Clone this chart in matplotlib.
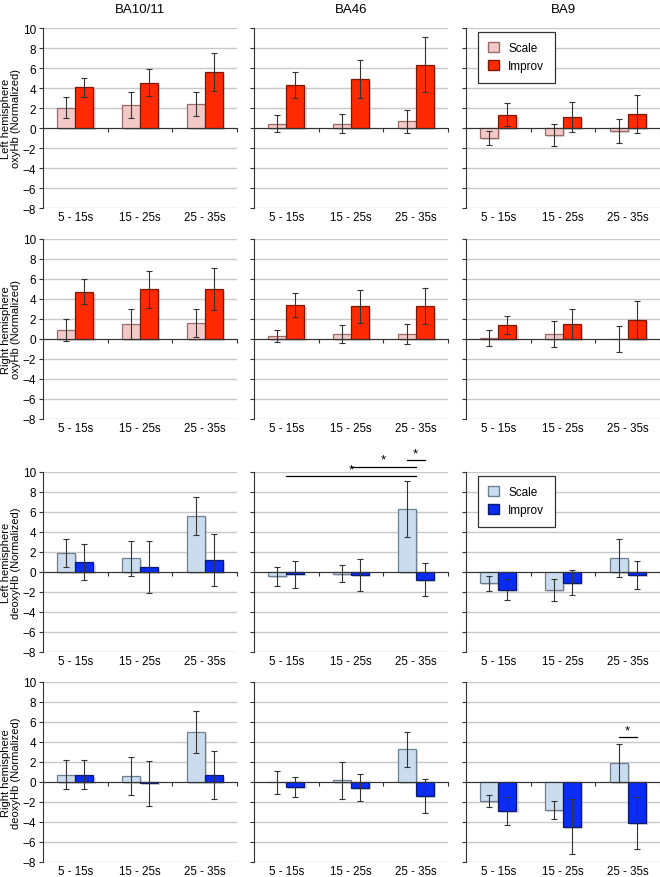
import numpy as np
import matplotlib
matplotlib.use('Agg')
import matplotlib.pyplot as plt
import matplotlib.patheffects as pe
import matplotlib.transforms as mtransforms
from matplotlib.patches import Patch

plt.rcParams['font.family'] = ['Liberation Sans', 'DejaVu Sans']

windows = ['5 - 15s', '15 - 25s', '25 - 35s']
regions = ['BA10/11', 'BA46', 'BA9']
row_labels = ['Left hemisphere\noxyHb (Normalized)', 'Right hemisphere\noxyHb (Normalized)',
              'Left hemisphere\ndeoxyHb (Normalized)', 'Right hemisphere\ndeoxyHb (Normalized)']

# [region][window]
lh_oxy_scale = [[2.04, 2.3, 2.43], [0.43, 0.43, 0.66], [-0.99, -0.72, -0.3]]
lh_oxy_scale_err = [[1.08, 1.3, 1.2], [0.87, 0.95, 1.13], [0.74, 1.1, 1.23]]
lh_oxy_improv = [[4.08, 4.54, 5.59], [4.28, 4.9, 6.35], [1.35, 1.15, 1.38]]
lh_oxy_improv_err = [[0.94, 1.35, 1.9], [1.3, 1.88, 2.78], [1.15, 1.5, 1.9]]

rh_oxy_scale = [[0.89, 1.51, 1.58], [0.3, 0.49, 0.49], [0.1, 0.49, 0.0]]
rh_oxy_scale_err = [[1.12, 1.48, 1.38], [0.58, 0.89, 1.0], [0.84, 1.3, 1.33]]
rh_oxy_improv = [[4.74, 4.97, 4.97], [3.39, 3.29, 3.29], [1.38, 1.48, 1.88]]
rh_oxy_improv_err = [[1.28, 1.84, 2.09], [1.2, 1.66, 1.8], [0.89, 1.51, 1.88]]

lh_deoxy_scale = [[1.94, 1.38, 5.59], [-0.43, -0.16, 6.35], [-1.12, -1.78, 1.38]]
lh_deoxy_scale_err = [[1.4, 1.74, 1.9], [0.95, 0.84, 2.8], [0.74, 1.07, 1.89]]
lh_deoxy_improv = [[0.99, 0.53, 1.22], [-0.2, -0.33, -0.76], [-1.78, -1.05, -0.33]]
lh_deoxy_improv_err = [[1.78, 2.6, 2.57], [1.35, 1.61, 1.63], [1.04, 1.28, 1.4]]

rh_deoxy_scale = [[0.73, 0.59, 4.98], [-0.03, 0.17, 3.27], [-1.88, -2.77, 1.88]]
rh_deoxy_scale_err = [[1.45, 1.88, 2.1], [1.12, 1.86, 1.78], [0.6, 0.89, 1.9]]
rh_deoxy_improv = [[0.73, -0.13, 0.73], [-0.53, -0.56, -1.39], [-2.9, -4.46, -4.09]]
rh_deoxy_improv_err = [[1.46, 2.26, 2.4], [1.0, 1.38, 1.73], [1.42, 2.75, 2.6]]

# significance: (row, col, from (window, bar), to (window, bar), height)
# bar: 0 = Scale, 1 = Improv, 0.5 = middle of the pair
sig_marks = [(2, 1, (0, 0.5), (2, 0.5), 9.57),
             (2, 1, (1, 0.5), (2, 0.5), 10.53),
             (2, 1, (2, 0), (2, 1), 11.2),
             (3, 2, (2, 0), (2, 1), 4.46)]

rows = [(lh_oxy_scale, lh_oxy_scale_err, lh_oxy_improv, lh_oxy_improv_err),
        (rh_oxy_scale, rh_oxy_scale_err, rh_oxy_improv, rh_oxy_improv_err),
        (lh_deoxy_scale, lh_deoxy_scale_err, lh_deoxy_improv, lh_deoxy_improv_err),
        (rh_deoxy_scale, rh_deoxy_scale_err, rh_deoxy_improv, rh_deoxy_improv_err)]

oxy_colors = (('#f3c9c7', '#9a6a68'), ('#ff2a00', '#7a1808'))
deoxy_colors = (('#cadcee', '#6e7f90'), ('#0a2cf5', '#0a1a70'))

W, H = 660, 878
fig = plt.figure(figsize=(W / 100, H / 100), dpi=100)

col_left = [43, 254, 466]
col_w = 194
row_top = [29, 240, 473, 683]
row_h = 180

bw = 0.28
shadow = [pe.SimplePatchShadow(offset=(1.5, -1.5), shadow_rgbFace='#999999', alpha=0.35), pe.Normal()]

for r in range(4):
    sc, sce, im, ime = rows[r]
    (sfc, sec), (ifc, iec) = oxy_colors if r < 2 else deoxy_colors
    for c in range(3):
        ax = fig.add_axes([col_left[c] / W, 1 - (row_top[r] + row_h) / H, col_w / W, row_h / H])
        x = np.arange(3)
        ax.set_xlim(-0.5, 2.5)
        ax.set_ylim(-8, 10)
        for yv in range(-8, 11, 2):
            ax.axhline(yv, color='#c8c8c8', lw=1.0, zorder=0)
        b1 = ax.bar(x - bw / 2, sc[c], bw, color=sfc, edgecolor=sec, lw=0.9, zorder=2)
        b2 = ax.bar(x + bw / 2, im[c], bw, color=ifc, edgecolor=iec, lw=0.9, zorder=2)
        for p in list(b1) + list(b2):
            p.set_path_effects(shadow)
        ax.errorbar(x - bw / 2, sc[c], yerr=sce[c], fmt='none', ecolor='#333333',
                    elinewidth=0.8, capsize=2.2, capthick=0.8, zorder=3)
        ax.errorbar(x + bw / 2, im[c], yerr=ime[c], fmt='none', ecolor='#333333',
                    elinewidth=0.8, capsize=2.2, capthick=0.8, zorder=3)

        # x axis drawn at zero with ticks between the windows
        for s in ['top', 'right']:
            ax.spines[s].set_visible(False)
        ax.spines['bottom'].set_position(('data', 0))
        ax.spines['bottom'].set_color('#333333')
        ax.spines['bottom'].set_zorder(4)
        ax.spines['left'].set_color('#333333')
        ax.set_xticks([0.5, 1.5, 2.5])
        ax.tick_params(axis='x', direction='out', length=3, color='#333333', labelbottom=False)
        ax.set_yticks(range(-8, 11, 2))
        ax.tick_params(axis='y', direction='out', length=3, color='#333333', labelsize=8.5, pad=2)
        if c > 0:
            ax.set_yticklabels([])
        else:
            ax.set_ylabel(row_labels[r], fontsize=8, labelpad=1, linespacing=1.0)
        lab_tr = ax.get_xaxis_transform() + mtransforms.ScaledTranslation(0, -9 / 100, fig.dpi_scale_trans)
        for i, w in enumerate(windows):
            ax.text(i, 0, w, transform=lab_tr, ha='center', va='center', fontsize=8.3)
        if r == 0:
            ax.text(0.5, 1.105, regions[c], transform=ax.transAxes, ha='center', va='center', fontsize=9.5)

        if c == 2 and r in (0, 2):
            handles = [Patch(facecolor=sfc, edgecolor=sec, label='Scale'),
                       Patch(facecolor=ifc, edgecolor=iec, label='Improv')]
            leg = ax.legend(handles=handles, loc='upper left', bbox_to_anchor=(0.06, 0.98),
                            fancybox=False, edgecolor='#333333', framealpha=1, fontsize=8.5,
                            handlelength=0.9, handleheight=0.9, borderpad=0.9,
                            labelspacing=0.5, handletextpad=0.8, borderaxespad=0)
            leg.get_frame().set_linewidth(0.9)

        for (rr, cc, a, b, h) in sig_marks:
            if rr == r and cc == c:
                xa = a[0] + (a[1] - 0.5) * bw
                xb = b[0] + (b[1] - 0.5) * bw
                ax.plot([xa, xb], [h, h], color='black', lw=0.9, clip_on=False, zorder=5)
                ax.text((xa + xb) / 2, h + 0.1, '*', ha='center', va='bottom',
                        fontsize=9.5, clip_on=False)

fig.savefig('out.png', dpi=100)
